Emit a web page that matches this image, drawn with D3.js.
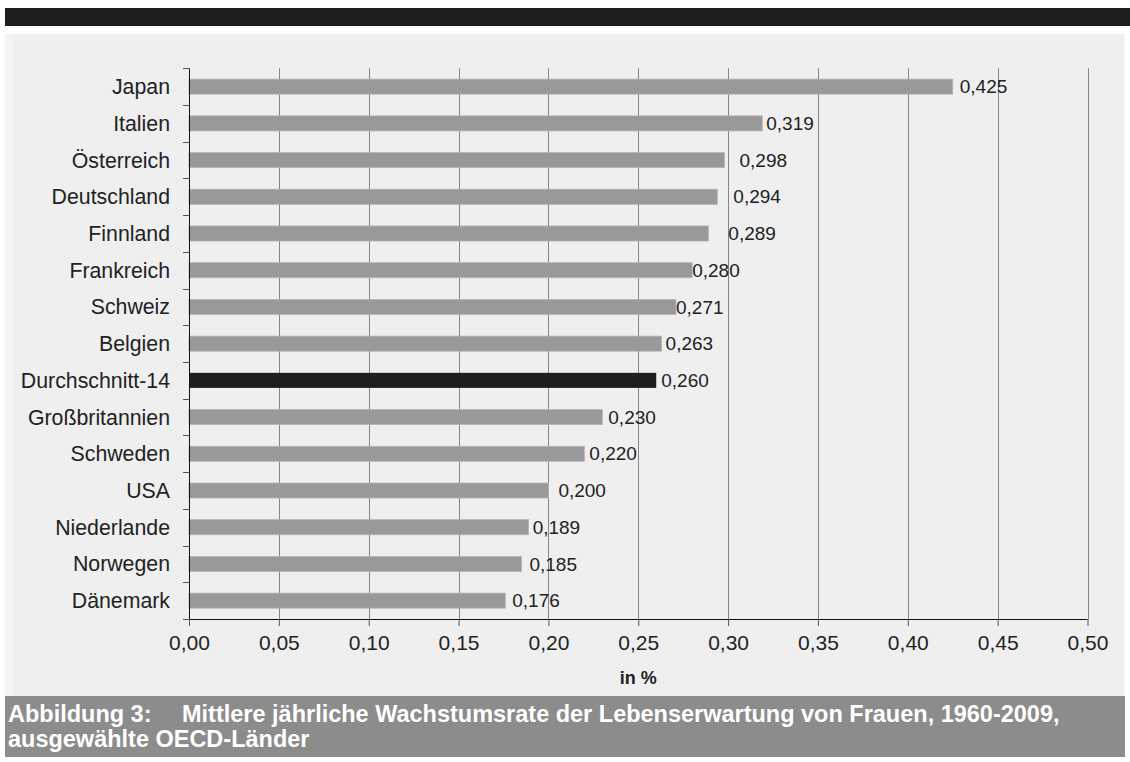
<!DOCTYPE html>
<html>
<head>
<meta charset="utf-8">
<script src="https://cdn.jsdelivr.net/npm/d3@7"></script>
<style>
  html, body { margin: 0; padding: 0; background: #ffffff; }
  svg { display: block; font-family: "Liberation Sans", Arial, sans-serif; }
</style>
</head>
<body>
<svg id="chart" width="1130" height="762"></svg>
<script>
// Countries, top to bottom
const countries = [
  "Japan", "Italien", "Österreich", "Deutschland", "Finnland", "Frankreich",
  "Schweiz", "Belgien", "Durchschnitt-14", "Großbritannien", "Schweden",
  "USA", "Niederlande", "Norwegen", "Dänemark"
];
// Mean annual growth rate of female life expectancy, in %
const rates = [
  0.425, 0.319, 0.298, 0.294, 0.289, 0.280,
  0.271, 0.263, 0.260, 0.230, 0.220,
  0.200, 0.189, 0.185, 0.176
];
const highlight = ["Durchschnitt-14"];
const xTicks = [0, 0.05, 0.10, 0.15, 0.20, 0.25, 0.30, 0.35, 0.40, 0.45, 0.50];
const axisTitle = "in %";
const captionLabel = "Abbildung 3:";
const captionLines = [
  "Mittlere jährliche Wachstumsrate der Lebenserwartung von Frauen, 1960-2009,",
  "ausgewählte OECD-Länder"
];

// Hand-placed horizontal nudges (px) of the value labels, in country order
const labelNudge = [7, 4, 15, 16, 20, 0, 0, 4, 5, 6, 5, 10, 4, 8, 7];

const data = countries.map((c, i) => ({ country: c, value: rates[i], nudge: labelNudge[i] }));
const svg = d3.select("#chart");

// Frame: top rule, panel, caption box
svg.append("rect").attr("x", 5).attr("y", 8).attr("width", 1125).attr("height", 18).attr("fill", "#1e1e1e");
svg.append("rect").attr("x", 5).attr("y", 34).attr("width", 1120).attr("height", 662).attr("fill", "#f4f4f4");
svg.append("rect").attr("x", 13).attr("y", 34).attr("width", 1111).attr("height", 662).attr("fill", "#efefef");
svg.append("rect").attr("x", 5).attr("y", 696).attr("width", 1120).attr("height", 61).attr("fill", "#8c8c8c");

const plotL = 189, plotR = 1087.5, plotT = 68.3, plotB = 619;

const x = d3.scaleLinear().domain([0, 0.5]).range([plotL, plotR]);
const y = d3.scaleBand().domain(countries).range([plotT, plotB]).paddingInner(0.59).paddingOuter(0.295);
const yb = d3.scaleBand().domain(countries).range([plotT, plotB]);

const fmt = (v, d) => v.toFixed(d).replace(".", ",");

// Vertical gridlines
svg.append("g").selectAll("line").data(xTicks.slice(1)).join("line")
  .attr("x1", d => Math.round(x(d)) + 0.5).attr("x2", d => Math.round(x(d)) + 0.5)
  .attr("y1", plotT).attr("y2", plotB)
  .attr("stroke", "#858585").attr("stroke-width", 1);

// Bars
svg.append("g").selectAll("rect").data(data).join("rect")
  .attr("x", x(0))
  .attr("y", d => y(d.country))
  .attr("width", d => x(d.value) - x(0))
  .attr("height", y.bandwidth())
  .attr("fill", d => highlight.includes(d.country) ? "#1e1e1e" : "#999999")
  .attr("stroke", d => highlight.includes(d.country) ? "none" : "#b4b4b4")
  .attr("stroke-width", 0.8);

// Value labels
svg.append("g").selectAll("text").data(data).join("text")
  .attr("x", d => x(d.value) + d.nudge)
  .attr("y", d => y(d.country) + y.bandwidth() / 2)
  .attr("dy", "0.35em")
  .attr("font-size", 19)
  .attr("fill", "#222")
  .text(d => fmt(d.value, 3));

// Bottom axis
const xAxis = d3.axisBottom(x).tickValues(xTicks).tickSize(7).tickPadding(9)
  .tickFormat(d => fmt(d, 2));
const gx = svg.append("g").attr("transform", `translate(0,${plotB})`).call(xAxis);
gx.select(".domain").attr("stroke", "#111").attr("d", `M${plotL},0.5H${plotR}`);
gx.selectAll(".tick line").attr("stroke", "#555");
gx.selectAll(".tick text").attr("font-size", 21).attr("fill", "#222")
  .attr("font-family", "Liberation Sans, Arial, sans-serif");

// Left axis with ticks at category boundaries
const ga = svg.append("g");
ga.append("line").attr("x1", plotL + 0.5).attr("x2", plotL + 0.5).attr("y1", plotT).attr("y2", plotB)
  .attr("stroke", "#111");
const bounds = countries.map(c => yb(c)).concat([plotB]);
ga.selectAll("line.b").data(bounds).join("line").attr("class", "b")
  .attr("x1", plotL - 6).attr("x2", plotL + 0.5)
  .attr("y1", d => Math.round(d) + 0.5).attr("y2", d => Math.round(d) + 0.5)
  .attr("stroke", "#555");
ga.selectAll("text").data(countries).join("text")
  .attr("x", 170)
  .attr("y", c => yb(c) + yb.bandwidth() / 2)
  .attr("dy", "0.35em")
  .attr("text-anchor", "end")
  .attr("font-size", 21.3)
  .attr("fill", "#222")
  .text(c => c);

// Axis title
svg.append("text").attr("x", (plotL + plotR) / 2).attr("y", 684)
  .attr("text-anchor", "middle").attr("font-size", 18).attr("font-weight", "bold").attr("fill", "#222")
  .text(axisTitle);

// Caption: the first line runs from the left margin to just short of the right edge
const capX = 8, capEnd = 1060, gapEm = 1.3;
const cap = svg.append("g").attr("font-weight", "bold").attr("fill", "#ffffff");
const lab = cap.append("text").attr("font-size", 20).text(captionLabel);
const first = cap.append("text").attr("font-size", 20).text(captionLines[0]);
const em = (lab.node().getComputedTextLength() + first.node().getComputedTextLength()) / 20 + gapEm;
const capSize = (capEnd - capX) / em;
lab.attr("font-size", capSize).attr("x", capX).attr("y", 722);
first.attr("font-size", capSize).attr("y", 722)
  .attr("x", capX + lab.node().getComputedTextLength() + gapEm * capSize);
cap.append("text").attr("font-size", capSize).attr("x", capX).attr("y", 747).text(captionLines[1]);
</script>
</body>
</html>
